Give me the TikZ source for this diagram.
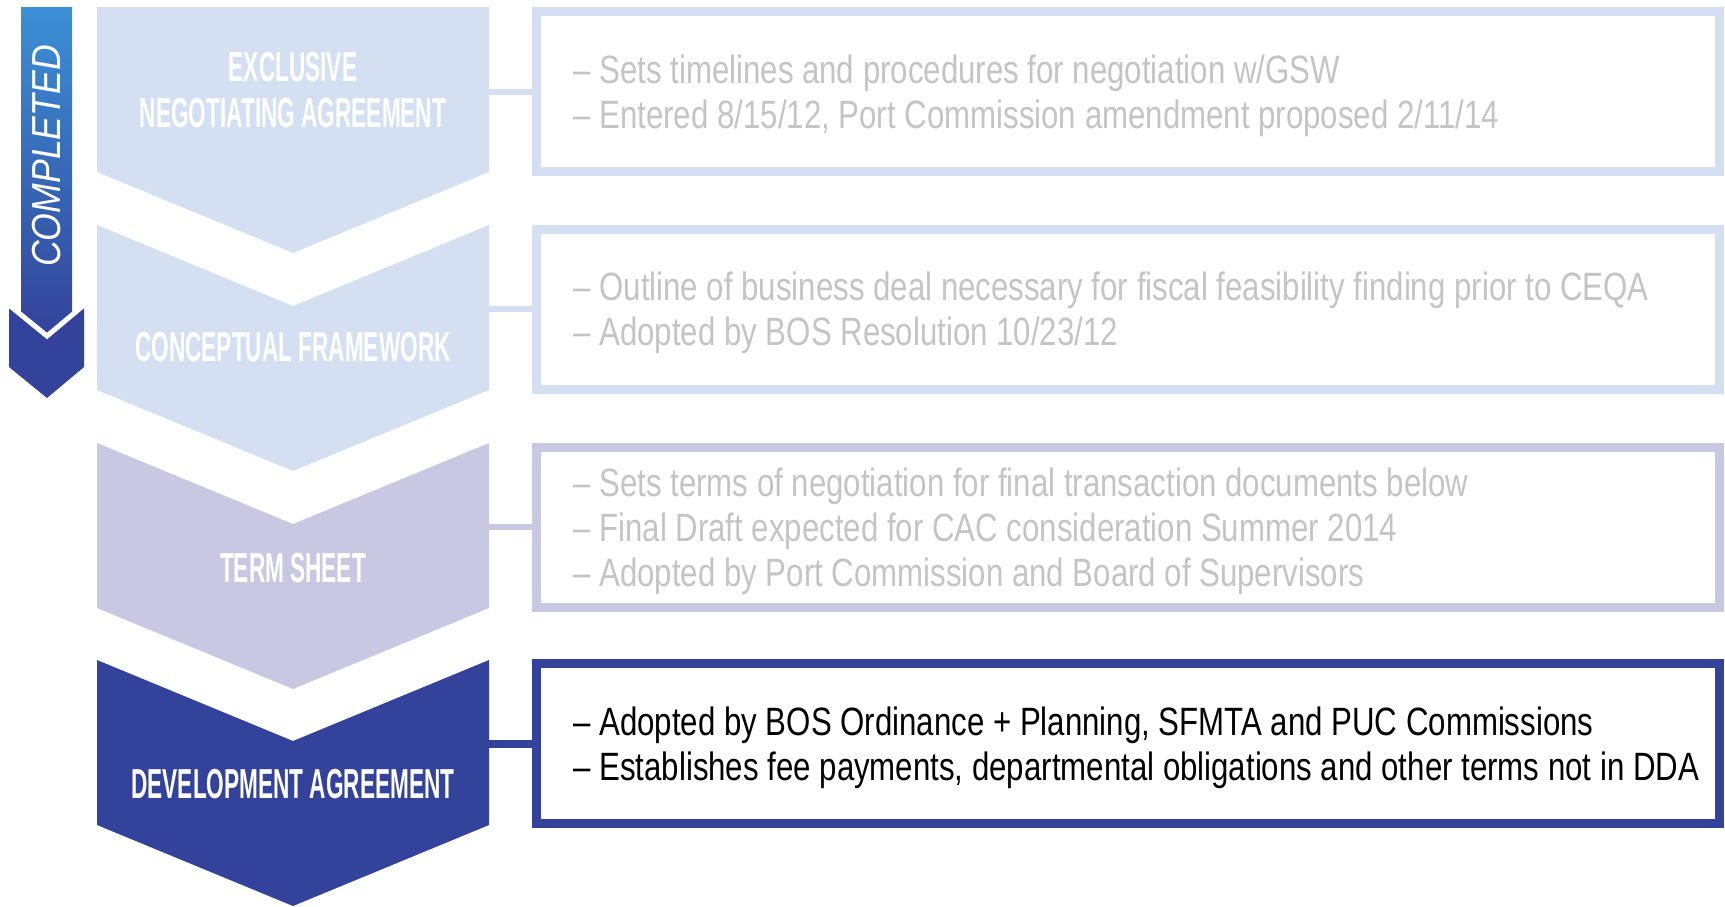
\documentclass[tikz,border=0pt]{standalone}
\usepackage{fontspec}
\setmainfont{Liberation Sans}
\newfontfamily\headfont{Liberation Sans}[FakeStretch=0.54]
\newfontfamily\bodyfont{Liberation Sans}[FakeStretch=0.79]
\newfontfamily\sidefont{Liberation Sans}[FakeStretch=0.88]
\definecolor{lightstep}{HTML}{D4E0F2}
\definecolor{midstep}{HTML}{C9C8E3}
\definecolor{darkstep}{HTML}{33429A}
\definecolor{greytext}{HTML}{C4C4C4}
\definecolor{shafttop}{HTML}{3B90D6}
\begin{document}
\begin{tikzpicture}[x=0.5pt, y=-0.5pt,
steplabel/.style = {text=white, font=\headfont\bfseries\fontsize{20.95}{23}\selectfont, align=center, inner sep=0pt},
infobox/.style = {draw=#1, line width=4.5pt, minimum width=591.5pt, minimum height=80pt, inner sep=0pt},
infotext/.style = {anchor=west, align=left, inner sep=0pt, font=\bodyfont\fontsize{19.75}{22.5}\selectfont},
link/.style = {draw=#1, line width=3pt}
                    ]
\useasboundingbox (0,0) rectangle (1725,906);
% the four steps
\foreach \top/\notch/\col in {7/0/lightstep, 225/81/lightstep, 443/81/midstep, 660/81/darkstep}
{
    \fill[\col] (97,\top) -- (293,\top+\notch) -- (489,\top) -- (489,\top+165)
        -- (293,\top+246) -- (97,\top+165) -- cycle;
}
\node[steplabel] (ena) at (293,90) {EXCLUSIVE\\NEGOTIATING AGREEMENT};
\node[steplabel] (cf)  at (293,347) {CONCEPTUAL FRAMEWORK};
\node[steplabel] (ts)  at (293,568) {TERM SHEET};
\node[steplabel] (da)  at (293,784) {DEVELOPMENT AGREEMENT};
%
\node[infobox=lightstep] (enabox) at (1128,91.5) {};
\node[infobox=lightstep] (cfbox)  at (1128,309) {};
\node[infobox=midstep]   (tsbox)  at (1128,527) {};
\node[infobox=darkstep]  (dabox)  at (1128,743.5) {};
%
\node[infotext, text=greytext] (enatext) at (573,95.5)
    {– Sets timelines and procedures for negotiation w/GSW\\
     – Entered 8/15/12, Port Commission amendment proposed 2/11/14};
\node[infotext, text=greytext] (cftext) at (573,313)
    {– Outline of business deal necessary for fiscal feasibility finding prior to CEQA\\
     – Adopted by BOS Resolution 10/23/12};
\node[infotext, text=greytext] (tstext) at (573,531)
    {– Sets terms of negotiation for final transaction documents below\\
     – Final Draft expected for CAC consideration Summer 2014\\
     – Adopted by Port Commission and Board of Supervisors};
\node[infotext, text=black] (datext) at (573,747.5)
    {– Adopted by BOS Ordinance + Planning, SFMTA and PUC Commissions\\
     – Establishes fee payments, departmental obligations and other terms not in DDA};
%
\coordinate (ena-e) at (488,91.5);
\coordinate (cf-e)  at (488,309);
\coordinate (ts-e)  at (488,527);
\coordinate (da-e)  at (488,743.5);
\draw[link=lightstep] (ena-e) -- (enabox.west);
\draw[link=lightstep] (cf-e) -- (cfbox.west);
\draw[link=midstep]   (ts-e) -- (tsbox.west);
\draw[link=darkstep, line width=4pt] (da-e) -- (dabox.west);
% completed arrow
\shade[top color=shafttop, bottom color=darkstep] (21,7) rectangle (72,336);
\fill[darkstep] (9,305) -- (47,336) -- (84,305) -- (84,367) -- (47,398) -- (9,367) -- cycle;
\draw[white, line width=2.5pt] (9,305) -- (47,336) -- (84,305);
\node[rotate=90, text=white, inner sep=0pt, font=\sidefont\itshape\fontsize{20.25}{24}\selectfont]
    (done) at (46.5,156) {COMPLETED};

\end{tikzpicture}
\end{document}
